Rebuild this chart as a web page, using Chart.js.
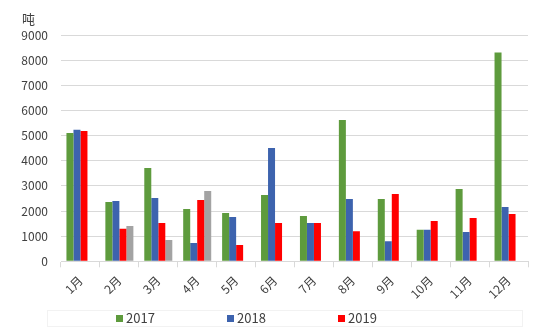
<!DOCTYPE html>
<html lang="zh">
<head>
  <meta charset="UTF-8">
  <title>月度数据对比</title>
  <script src="https://cdn.jsdelivr.net/npm/chart.js"></script>
  <style>
    body { margin: 0; padding: 0; background: #ffffff; }
  </style>
</head>
<body>
<canvas id="monthChart" width="554" height="332"></canvas>

<script>
  // categories and series
  const months = ['1月', '2月', '3月', '4月', '5月', '6月', '7月', '8月', '9月', '10月', '11月', '12月'];
  const seriesNames = ['2017', '2018', '2019'];
  const data2017 = [5100, 2360, 3710, 2080, 1920, 2640, 1800, 5620, 2480, 1250, 2880, 8300];
  const data2018 = [5230, 2400, 2520, 730, 1760, 4510, 1520, 2480, 800, 1250, 1170, 2160];
  const data2019 = [5180, 1290, 1520, 2440, 650, 1520, 1520, 1200, 2680, 1600, 1720, 1880];
  const dataOther = [null, 1400, 850, 2800, null, null, null, null, null, null, null, null];
  const yTicks = [0, 1000, 2000, 3000, 4000, 5000, 6000, 7000, 8000, 9000];

  const FONT = "'Noto Sans CJK SC', 'Noto Sans', sans-serif";
  const gridColor = '#d9d9d9';

  // unit label + legend drawn at the bottom
  const extras = {
    id: 'extras',
    afterDraw(chart) {
      const ctx = chart.ctx;
      ctx.save();
      ctx.fillStyle = '#404040';
      ctx.font = '13px ' + FONT;
      ctx.textAlign = 'center';
      ctx.textBaseline = 'middle';
      ctx.fillText('吨', 28.5, 19.5);

      // legend frame
      ctx.strokeStyle = '#f2f2f2';
      ctx.lineWidth = 1;
      ctx.strokeRect(47.5, 310.5, 475, 16);

      ctx.font = '13px ' + FONT;
      ctx.textAlign = 'left';
      seriesNames.forEach((name, i) => {
        const x = 116 + i * 111;
        ctx.fillStyle = chart.data.datasets[i].backgroundColor;
        ctx.fillRect(x, 315, 7, 7);
        ctx.fillStyle = '#404040';
        ctx.fillText(name, x + 10, 318.5);
      });
      ctx.restore();
    }
  };

  const ctx = document.getElementById('monthChart').getContext('2d');
  const monthChart = new Chart(ctx, {
    type: 'bar',
    data: {
      labels: months,
      datasets: [
        { label: seriesNames[0], data: data2017, backgroundColor: '#5e9b3d' },
        { label: seriesNames[1], data: data2018, backgroundColor: '#3d63ae' },
        { label: seriesNames[2], data: data2019, backgroundColor: '#ff0000' },
        { label: '', data: dataOther, backgroundColor: '#a3a3a3' }
      ]
    },
    options: {
      responsive: false,
      animation: false,
      devicePixelRatio: 1,
      layout: { padding: { top: 35, right: 26, bottom: 0, left: 0 } },
      datasets: { bar: { categoryPercentage: 0.72, barPercentage: 1 } },
      plugins: {
        legend: { display: false },
        tooltip: { enabled: false }
      },
      scales: {
        x: {
          grid: { drawOnChartArea: false, drawTicks: true, tickLength: 6, color: gridColor },
          border: { display: true, color: gridColor },
          ticks: {
            color: '#404040',
            font: { family: FONT, size: 12 },
            autoSkip: false,
            minRotation: 45,
            maxRotation: 45,
            padding: 6
          },
          afterFit(scale) { scale.height = 70.7; }
        },
        y: {
          min: 0,
          max: 9000,
          afterBuildTicks(scale) { scale.ticks = yTicks.map(v => ({ value: v })); },
          grid: { color: gridColor, drawTicks: false },
          border: { display: false },
          ticks: {
            color: '#404040',
            font: { family: FONT, size: 12 },
            autoSkip: false,
            padding: 13,
            callback: v => String(v)
          },
          afterFit(scale) { scale.width = 61; }
        }
      }
    },
    plugins: [extras]
  });
</script>
</body>
</html>
